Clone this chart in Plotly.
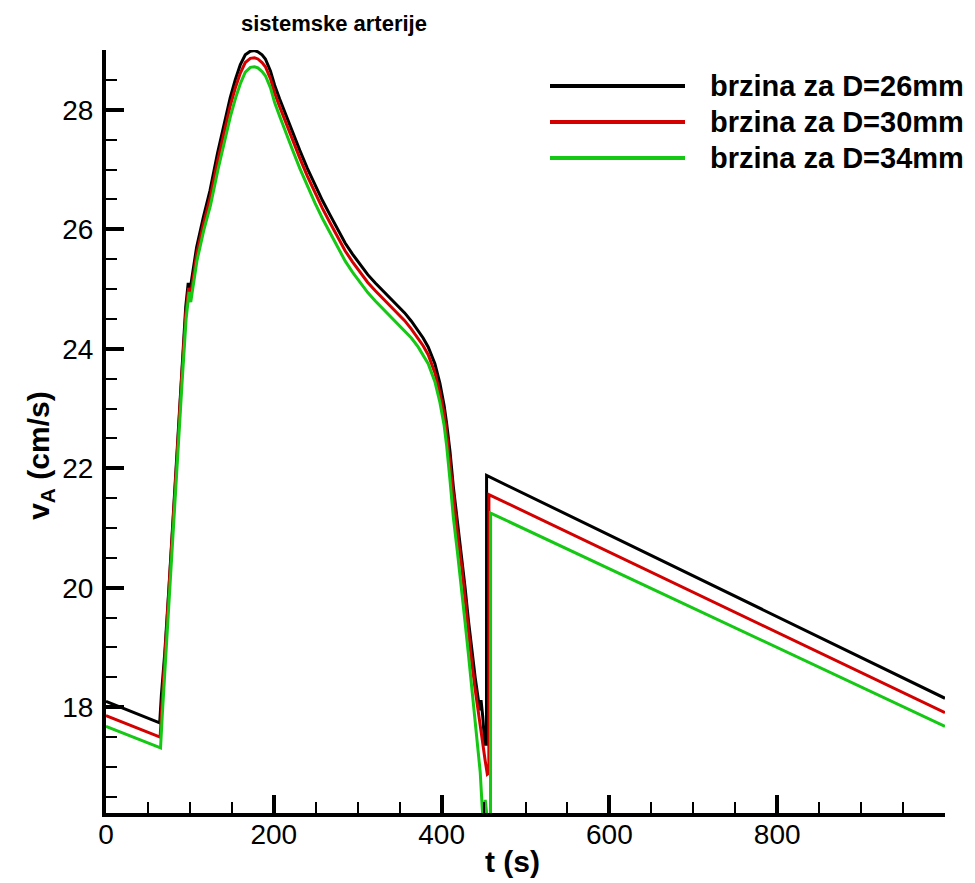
import plotly.graph_objects as go

# ---- data ----
t_26 = [0, 64, 66, 70, 75, 80, 85, 90, 95, 98, 100, 102, 108, 116, 124, 133, 142, 148, 154, 160,
        166, 172, 177, 181, 186, 190, 196, 201, 207, 213, 222, 231, 240, 249, 258, 267, 276, 285, 294, 303,
        312, 321, 330, 338, 347, 356, 364, 372, 378, 384, 392, 398, 403, 406, 410, 414, 419, 424, 428, 432,
        436, 440, 443, 445.5, 447, 449, 451.5, 453.5, 453.6, 1000]
v_26 = [18.10, 17.74, 18.20, 18.90, 20.00, 21.20, 22.40, 23.60, 24.70, 25.10, 24.95, 25.15, 25.70, 26.20, 26.65, 27.28, 27.85, 28.20, 28.50, 28.75,
        28.92, 28.98, 28.99, 28.97, 28.92, 28.85, 28.65, 28.41, 28.18, 27.96, 27.64, 27.32, 27.02, 26.74, 26.48, 26.24, 26.00, 25.77, 25.58, 25.40,
        25.24, 25.10, 24.97, 24.85, 24.73, 24.60, 24.46, 24.31, 24.18, 24.03, 23.75, 23.42, 23.05, 22.75, 22.28, 21.69, 21.10, 20.57, 20.00, 19.45,
        18.92, 18.50, 18.20, 17.95, 18.12, 17.85, 17.38, 17.38, 21.88, 18.15]

t_30 = [0, 64.5, 66.5, 70, 75, 80, 85, 90, 95, 98.5, 100.5, 102.5, 108, 116, 124, 133, 142, 148, 154, 160,
        166, 172, 177, 181, 186, 190, 196, 201, 207, 213, 222, 231, 240, 249, 258, 267, 276, 285, 294, 303,
        312, 321, 330, 338, 347, 356, 364, 372, 378, 384, 392, 398, 403, 406, 410, 414, 419, 424, 428, 432,
        436, 440, 443, 446, 449, 452, 454.5, 456.3, 456.4, 1000]
v_30 = [17.86, 17.50, 18.00, 18.78, 19.88, 21.08, 22.28, 23.48, 24.58, 25.02, 24.86, 25.05, 25.58, 26.08, 26.52, 27.14, 27.71, 28.06, 28.36, 28.61,
        28.79, 28.86, 28.87, 28.85, 28.79, 28.72, 28.52, 28.28, 28.05, 27.83, 27.51, 27.19, 26.89, 26.61, 26.35, 26.11, 25.87, 25.64, 25.45, 25.27,
        25.11, 24.97, 24.84, 24.72, 24.60, 24.47, 24.33, 24.18, 24.05, 23.90, 23.60, 23.26, 22.92, 22.60, 22.08, 21.48, 20.90, 20.35, 19.80, 19.25,
        18.75, 18.30, 17.98, 17.70, 17.40, 17.10, 16.88, 16.90, 21.56, 17.91]

t_34 = [0, 65, 67, 70.5, 75.5, 80.5, 85.5, 90.5, 95.5, 99, 101, 103, 108.5, 116.5, 124.5, 133.5, 142.5, 148.5, 154.5, 160.5,
        166, 172, 177, 181, 186, 190, 196, 201, 207, 213, 222, 231, 240, 249, 258, 267, 276, 285, 294, 303,
        312, 321, 330, 338, 347, 356, 364, 372, 378, 384, 392, 398, 403, 406, 410, 414, 419, 424, 428, 432,
        436, 440, 443, 446, 448.5, 450, 452, 455, 458.3, 458.4, 1000]
v_34 = [17.68, 17.32, 17.85, 18.70, 19.80, 21.00, 22.20, 23.40, 24.50, 24.95, 24.78, 24.98, 25.48, 25.98, 26.40, 27.00, 27.56, 27.90, 28.20, 28.45,
        28.63, 28.71, 28.72, 28.70, 28.64, 28.57, 28.37, 28.12, 27.89, 27.66, 27.34, 27.02, 26.72, 26.44, 26.18, 25.94, 25.70, 25.47, 25.28, 25.10,
        24.94, 24.80, 24.67, 24.56, 24.44, 24.31, 24.18, 24.03, 23.90, 23.75, 23.45, 23.10, 22.72, 22.38, 21.80, 21.18, 20.58, 19.98, 19.42, 18.88,
        18.34, 17.84, 17.42, 16.92, 16.30, 16.05, 16.45, 16.05, 16.05, 21.25, 17.68]

series_names = ["brzina za D=26mm", "brzina za D=30mm", "brzina za D=34mm"]
series_colors = ["#000000", "#d40000", "#14c814"]
x_ticks = [0, 200, 400, 600, 800]
y_ticks = [18, 20, 22, 24, 26, 28]
x_range = [0, 1000]
y_range = [16.23, 29.0]

FONT = "Liberation Sans, Arial, Helvetica, sans-serif"

fig = go.Figure()
for t, v, c, n in zip([t_26, t_30, t_34], [v_26, v_30, v_34], series_colors, series_names):
    fig.add_trace(go.Scatter(x=t, y=v, mode="lines", name=n,
                             line=dict(color=c, width=3), showlegend=False))

axis_common = dict(
    showline=True, linecolor="black", linewidth=4,
    ticks="inside", ticklen=18, tickwidth=4, tickcolor="black",
    showgrid=False, zeroline=False,
    tickfont=dict(family=FONT, size=28, color="black"),
)

fig.update_xaxes(range=x_range, tickvals=x_ticks, ticktext=[str(v) for v in x_ticks],
                 minor=dict(dtick=50, tick0=0, ticks="inside", ticklen=11, tickwidth=2,
                            tickcolor="black", showgrid=False),
                 ticklabelstandoff=-7,
                 **axis_common)
fig.update_yaxes(range=y_range, tickvals=y_ticks, ticktext=[str(v) for v in y_ticks],
                 minor=dict(dtick=0.5, tick0=0, ticks="inside", ticklen=11, tickwidth=2,
                            tickcolor="black", showgrid=False),
                 ticklabelstandoff=3,
                 **axis_common)

annotations = [
    dict(text="<b>sistemske arterije</b>", x=0.2718, y=1.035, xref="paper", yref="paper",
         xanchor="center", yanchor="middle", showarrow=False,
         font=dict(family=FONT, size=22, color="black")),
    dict(text="<b>t (s)</b>", x=0.484, y=-0.063, xref="paper", yref="paper",
         xanchor="center", yanchor="middle", showarrow=False,
         font=dict(family=FONT, size=30, color="black")),
    dict(text="<b>v<sub>A</sub> (cm/s)</b>", x=-0.079, y=0.469, xref="paper", yref="paper",
         xanchor="center", yanchor="middle", showarrow=False, textangle=-90,
         font=dict(family=FONT, size=30, color="black")),
]
shapes = []
leg_y_px = [86, 122, 158]
for name, col, ypx in zip(series_names, series_colors, leg_y_px):
    yp = (812.5 - ypx) / 762.5
    shapes.append(dict(type="line", xref="paper", yref="paper",
                       x0=(550 - 106) / 839, x1=(685 - 106) / 839, y0=yp, y1=yp,
                       line=dict(color=col, width=4)))
    annotations.append(dict(text="<b>" + name + "</b>", x=(708 - 106) / 839, y=yp,
                            xref="paper", yref="paper", xanchor="left", yanchor="middle",
                            showarrow=False, font=dict(family=FONT, size=29, color="black")))

fig.update_layout(
    width=975, height=883, autosize=False,
    margin=dict(l=106, r=30, t=50, b=70, pad=0),
    paper_bgcolor="white", plot_bgcolor="white",
    annotations=annotations, shapes=shapes,
    showlegend=False,
)

fig.write_html("out.html")
